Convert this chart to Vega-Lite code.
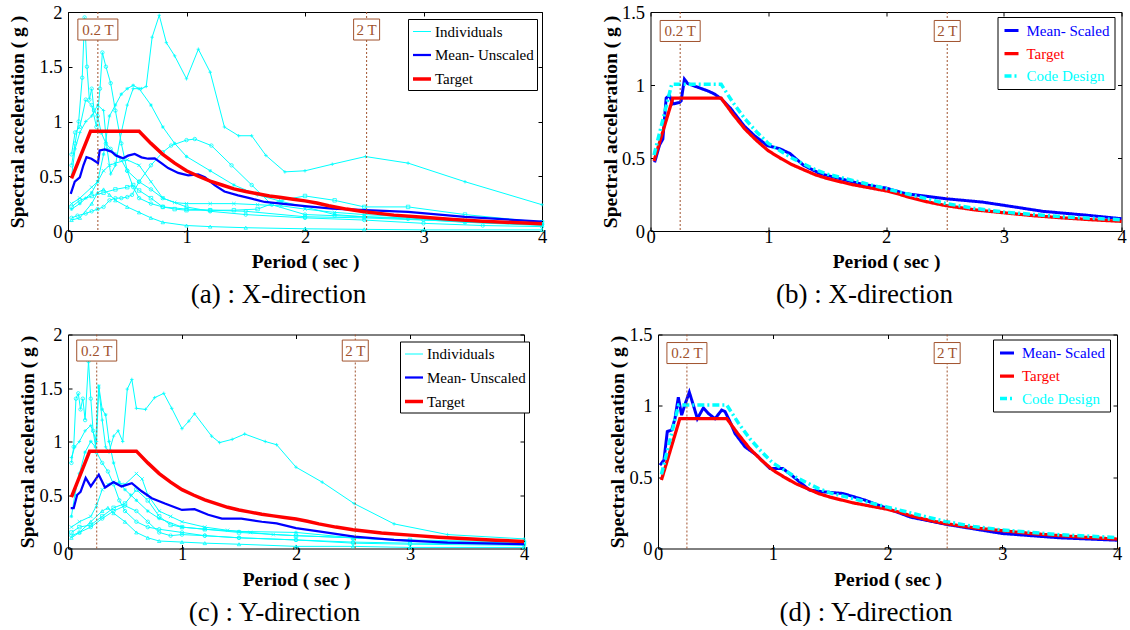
{
"$schema": "https://vega.github.io/schema/vega-lite/v6.json",
"padding": {"left": 7, "top": 2, "right": 0, "bottom": 0},
"background": "white",
"datasets": {
"marks": [{"T": 0.252, "lab": "0.2 T"}, {"T": 2.52, "lab": "2 T"}],
"target": [{"T":0.03,"Sa":0.48},{"T":0.19,"Sa":0.91},{"T":0.6,"Sa":0.91},{"T":0.7,"Sa":0.8},{"T":0.8,"Sa":0.7},{"T":0.9,"Sa":0.62},{"T":1.0,"Sa":0.55},{"T":1.1,"Sa":0.5},{"T":1.2,"Sa":0.455},{"T":1.3,"Sa":0.42},{"T":1.4,"Sa":0.385},{"T":1.5,"Sa":0.36},{"T":1.6,"Sa":0.34},{"T":1.7,"Sa":0.32},{"T":1.8,"Sa":0.305},{"T":1.9,"Sa":0.29},{"T":2.0,"Sa":0.275},{"T":2.1,"Sa":0.255},{"T":2.2,"Sa":0.23},{"T":2.35,"Sa":0.2},{"T":2.5,"Sa":0.175},{"T":2.75,"Sa":0.145},{"T":3.0,"Sa":0.125},{"T":3.25,"Sa":0.105},{"T":3.5,"Sa":0.09},{"T":3.75,"Sa":0.077},{"T":4.0,"Sa":0.066}],
"code": [{"T":0.03,"Sa":0.52},{"T":0.18,"Sa":1.005},{"T":0.6,"Sa":1.005},{"T":0.7,"Sa":0.88},{"T":0.8,"Sa":0.77},{"T":0.9,"Sa":0.68},{"T":1.0,"Sa":0.6},{"T":1.1,"Sa":0.55},{"T":1.2,"Sa":0.5},{"T":1.3,"Sa":0.46},{"T":1.4,"Sa":0.42},{"T":1.5,"Sa":0.39},{"T":1.6,"Sa":0.37},{"T":1.7,"Sa":0.35},{"T":1.8,"Sa":0.33},{"T":1.9,"Sa":0.31},{"T":2.0,"Sa":0.29},{"T":2.2,"Sa":0.25},{"T":2.5,"Sa":0.19},{"T":2.75,"Sa":0.155},{"T":3.0,"Sa":0.13},{"T":3.5,"Sa":0.097},{"T":4.0,"Sa":0.077}],
"meanA": [{"T":0.023,"Sa":0.34},{"T":0.057,"Sa":0.45},{"T":0.1,"Sa":0.49},{"T":0.13,"Sa":0.6},{"T":0.156,"Sa":0.675},{"T":0.198,"Sa":0.66},{"T":0.24,"Sa":0.63},{"T":0.253,"Sa":0.62},{"T":0.267,"Sa":0.736},{"T":0.31,"Sa":0.745},{"T":0.366,"Sa":0.725},{"T":0.408,"Sa":0.688},{"T":0.465,"Sa":0.664},{"T":0.507,"Sa":0.688},{"T":0.563,"Sa":0.703},{"T":0.62,"Sa":0.673},{"T":0.676,"Sa":0.66},{"T":0.732,"Sa":0.664},{"T":0.788,"Sa":0.62},{"T":0.845,"Sa":0.575},{"T":0.93,"Sa":0.53},{"T":1.014,"Sa":0.508},{"T":1.098,"Sa":0.517},{"T":1.155,"Sa":0.49},{"T":1.24,"Sa":0.416},{"T":1.32,"Sa":0.361},{"T":1.435,"Sa":0.325},{"T":1.55,"Sa":0.295},{"T":1.66,"Sa":0.265},{"T":2.0,"Sa":0.228},{"T":2.23,"Sa":0.205},{"T":2.51,"Sa":0.19},{"T":2.87,"Sa":0.174},{"T":3.35,"Sa":0.128},{"T":4.0,"Sa":0.085}],
"meanC": [{"T":0.024,"Sa":0.377},{"T":0.05,"Sa":0.377},{"T":0.08,"Sa":0.5},{"T":0.11,"Sa":0.53},{"T":0.155,"Sa":0.66},{"T":0.2,"Sa":0.58},{"T":0.27,"Sa":0.69},{"T":0.325,"Sa":0.57},{"T":0.4,"Sa":0.62},{"T":0.47,"Sa":0.58},{"T":0.56,"Sa":0.61},{"T":0.646,"Sa":0.535},{"T":0.735,"Sa":0.47},{"T":0.85,"Sa":0.42},{"T":1.0,"Sa":0.36},{"T":1.11,"Sa":0.367},{"T":1.23,"Sa":0.315},{"T":1.35,"Sa":0.28},{"T":1.52,"Sa":0.28},{"T":1.7,"Sa":0.25},{"T":1.83,"Sa":0.235},{"T":2.0,"Sa":0.19},{"T":2.2,"Sa":0.16},{"T":2.51,"Sa":0.11},{"T":2.86,"Sa":0.08},{"T":3.33,"Sa":0.054},{"T":4.0,"Sa":0.04}],
"meanB": [{"T":0.035,"Sa":0.47},{"T":0.077,"Sa":0.59},{"T":0.105,"Sa":0.63},{"T":0.133,"Sa":0.91},{"T":0.16,"Sa":0.93},{"T":0.19,"Sa":0.87},{"T":0.245,"Sa":0.88},{"T":0.26,"Sa":0.89},{"T":0.288,"Sa":1.04},{"T":0.316,"Sa":1.01},{"T":0.4,"Sa":0.985},{"T":0.485,"Sa":0.96},{"T":0.54,"Sa":0.94},{"T":0.6,"Sa":0.906},{"T":0.68,"Sa":0.84},{"T":0.795,"Sa":0.72},{"T":0.88,"Sa":0.655},{"T":0.99,"Sa":0.586},{"T":1.1,"Sa":0.563},{"T":1.185,"Sa":0.53},{"T":1.3,"Sa":0.45},{"T":1.44,"Sa":0.393},{"T":1.61,"Sa":0.358},{"T":1.8,"Sa":0.32},{"T":2.0,"Sa":0.294},{"T":2.17,"Sa":0.255},{"T":2.52,"Sa":0.22},{"T":2.82,"Sa":0.198},{"T":3.0,"Sa":0.176},{"T":3.33,"Sa":0.135},{"T":3.72,"Sa":0.107},{"T":4.0,"Sa":0.084}],
"meanD": [{"T":0.017,"Sa":0.584},{"T":0.052,"Sa":0.62},{"T":0.081,"Sa":0.82},{"T":0.119,"Sa":0.83},{"T":0.148,"Sa":0.91},{"T":0.177,"Sa":1.06},{"T":0.206,"Sa":0.935},{"T":0.235,"Sa":1.01},{"T":0.273,"Sa":1.095},{"T":0.308,"Sa":1.005},{"T":0.343,"Sa":0.91},{"T":0.395,"Sa":0.985},{"T":0.439,"Sa":0.946},{"T":0.497,"Sa":0.91},{"T":0.555,"Sa":0.97},{"T":0.584,"Sa":0.96},{"T":0.628,"Sa":0.888},{"T":0.671,"Sa":0.806},{"T":0.759,"Sa":0.712},{"T":0.86,"Sa":0.654},{"T":0.976,"Sa":0.56},{"T":1.09,"Sa":0.56},{"T":1.18,"Sa":0.503},{"T":1.32,"Sa":0.41},{"T":1.44,"Sa":0.397},{"T":1.61,"Sa":0.386},{"T":1.8,"Sa":0.34},{"T":2.0,"Sa":0.28},{"T":2.2,"Sa":0.22},{"T":2.52,"Sa":0.168},{"T":3.0,"Sa":0.105},{"T":3.5,"Sa":0.075},{"T":4.0,"Sa":0.058}],
"indA": [
{"rec":"r1","T":0.03,"Sa":0.5},{"rec":"r1","T":0.06,"Sa":0.75},{"rec":"r1","T":0.1,"Sa":0.9},{"rec":"r1","T":0.15,"Sa":1.0},{"rec":"r1","T":0.2,"Sa":1.05},{"rec":"r1","T":0.25,"Sa":1.15},{"rec":"r1","T":0.3,"Sa":1.1},{"rec":"r1","T":0.33,"Sa":0.75},{"rec":"r1","T":0.36,"Sa":0.52},{"rec":"r1","T":0.4,"Sa":0.6},{"rec":"r1","T":0.45,"Sa":0.9},{"rec":"r1","T":0.5,"Sa":1.15},{"rec":"r1","T":0.55,"Sa":1.3},{"rec":"r1","T":0.62,"Sa":1.3},{"rec":"r1","T":0.66,"Sa":1.32},{"rec":"r1","T":0.71,"Sa":1.77},{"rec":"r1","T":0.77,"Sa":1.97},{"rec":"r1","T":0.83,"Sa":1.72},{"rec":"r1","T":0.9,"Sa":1.6},{"rec":"r1","T":1.0,"Sa":1.39},{"rec":"r1","T":1.1,"Sa":1.66},{"rec":"r1","T":1.2,"Sa":1.45},{"rec":"r1","T":1.32,"Sa":0.95},{"rec":"r1","T":1.44,"Sa":0.87},{"rec":"r1","T":1.55,"Sa":0.87},{"rec":"r1","T":1.67,"Sa":0.69},{"rec":"r1","T":1.83,"Sa":0.54},{"rec":"r1","T":2.0,"Sa":0.55},{"rec":"r1","T":2.23,"Sa":0.61},{"rec":"r1","T":2.51,"Sa":0.68},{"rec":"r1","T":2.87,"Sa":0.62},{"rec":"r1","T":3.35,"Sa":0.45},{"rec":"r1","T":4.0,"Sa":0.24},
{"rec":"r2","T":0.03,"Sa":0.2},{"rec":"r2","T":0.1,"Sa":0.25},{"rec":"r2","T":0.15,"Sa":0.3},{"rec":"r2","T":0.2,"Sa":0.35},{"rec":"r2","T":0.25,"Sa":0.45},{"rec":"r2","T":0.3,"Sa":0.7},{"rec":"r2","T":0.35,"Sa":1.05},{"rec":"r2","T":0.4,"Sa":1.15},{"rec":"r2","T":0.45,"Sa":1.25},{"rec":"r2","T":0.5,"Sa":1.3},{"rec":"r2","T":0.55,"Sa":1.33},{"rec":"r2","T":0.6,"Sa":1.3},{"rec":"r2","T":0.7,"Sa":1.15},{"rec":"r2","T":0.8,"Sa":0.95},{"rec":"r2","T":0.9,"Sa":0.8},{"rec":"r2","T":1.0,"Sa":0.68},{"rec":"r2","T":1.2,"Sa":0.55},{"rec":"r2","T":1.4,"Sa":0.42},{"rec":"r2","T":1.6,"Sa":0.33},{"rec":"r2","T":1.8,"Sa":0.27},{"rec":"r2","T":2.0,"Sa":0.22},{"rec":"r2","T":2.25,"Sa":0.15},{"rec":"r2","T":2.5,"Sa":0.13},{"rec":"r2","T":2.87,"Sa":0.12},{"rec":"r2","T":3.35,"Sa":0.08},{"rec":"r2","T":4.0,"Sa":0.05},
{"rec":"r3","T":0.03,"Sa":0.6},{"rec":"r3","T":0.06,"Sa":0.8},{"rec":"r3","T":0.09,"Sa":1.0},{"rec":"r3","T":0.12,"Sa":1.4},{"rec":"r3","T":0.14,"Sa":1.95},{"rec":"r3","T":0.16,"Sa":1.5},{"rec":"r3","T":0.18,"Sa":1.2},{"rec":"r3","T":0.2,"Sa":1.3},{"rec":"r3","T":0.22,"Sa":1.1},{"rec":"r3","T":0.25,"Sa":1.05},{"rec":"r3","T":0.28,"Sa":0.9},{"rec":"r3","T":0.32,"Sa":0.8},{"rec":"r3","T":0.36,"Sa":0.75},{"rec":"r3","T":0.4,"Sa":0.7},{"rec":"r3","T":0.45,"Sa":0.65},{"rec":"r3","T":0.5,"Sa":0.55},{"rec":"r3","T":0.6,"Sa":0.45},{"rec":"r3","T":0.7,"Sa":0.38},{"rec":"r3","T":0.8,"Sa":0.3},{"rec":"r3","T":1.0,"Sa":0.22},{"rec":"r3","T":1.2,"Sa":0.18},{"rec":"r3","T":1.5,"Sa":0.15},{"rec":"r3","T":2.0,"Sa":0.12},{"rec":"r3","T":2.5,"Sa":0.1},{"rec":"r3","T":3.0,"Sa":0.07},{"rec":"r3","T":3.5,"Sa":0.05},{"rec":"r3","T":4.0,"Sa":0.04},
{"rec":"r4","T":0.03,"Sa":0.7},{"rec":"r4","T":0.06,"Sa":0.9},{"rec":"r4","T":0.1,"Sa":0.95},{"rec":"r4","T":0.15,"Sa":1.2},{"rec":"r4","T":0.2,"Sa":1.15},{"rec":"r4","T":0.24,"Sa":0.95},{"rec":"r4","T":0.27,"Sa":1.3},{"rec":"r4","T":0.29,"Sa":1.63},{"rec":"r4","T":0.32,"Sa":1.5},{"rec":"r4","T":0.36,"Sa":1.35},{"rec":"r4","T":0.4,"Sa":1.1},{"rec":"r4","T":0.45,"Sa":0.8},{"rec":"r4","T":0.5,"Sa":0.55},{"rec":"r4","T":0.55,"Sa":0.4},{"rec":"r4","T":0.6,"Sa":0.3},{"rec":"r4","T":0.7,"Sa":0.25},{"rec":"r4","T":0.8,"Sa":0.22},{"rec":"r4","T":1.0,"Sa":0.2},{"rec":"r4","T":1.2,"Sa":0.19},{"rec":"r4","T":1.5,"Sa":0.18},{"rec":"r4","T":2.0,"Sa":0.13},{"rec":"r4","T":2.5,"Sa":0.12},{"rec":"r4","T":3.0,"Sa":0.1},{"rec":"r4","T":4.0,"Sa":0.06},
{"rec":"r5","T":0.03,"Sa":0.12},{"rec":"r5","T":0.08,"Sa":0.14},{"rec":"r5","T":0.15,"Sa":0.16},{"rec":"r5","T":0.2,"Sa":0.18},{"rec":"r5","T":0.25,"Sa":0.2},{"rec":"r5","T":0.3,"Sa":0.22},{"rec":"r5","T":0.35,"Sa":0.28},{"rec":"r5","T":0.4,"Sa":0.3},{"rec":"r5","T":0.45,"Sa":0.3},{"rec":"r5","T":0.5,"Sa":0.31},{"rec":"r5","T":0.54,"Sa":0.33},{"rec":"r5","T":0.6,"Sa":0.45},{"rec":"r5","T":0.7,"Sa":0.6},{"rec":"r5","T":0.8,"Sa":0.72},{"rec":"r5","T":0.87,"Sa":0.78},{"rec":"r5","T":1.0,"Sa":0.83},{"rec":"r5","T":1.07,"Sa":0.84},{"rec":"r5","T":1.21,"Sa":0.78},{"rec":"r5","T":1.38,"Sa":0.6},{"rec":"r5","T":1.55,"Sa":0.42},{"rec":"r5","T":1.72,"Sa":0.24},{"rec":"r5","T":2.0,"Sa":0.15},{"rec":"r5","T":2.25,"Sa":0.14},{"rec":"r5","T":2.5,"Sa":0.13},{"rec":"r5","T":2.87,"Sa":0.11},{"rec":"r5","T":3.35,"Sa":0.08},{"rec":"r5","T":4.0,"Sa":0.06},
{"rec":"r6","T":0.03,"Sa":0.25},{"rec":"r6","T":0.1,"Sa":0.3},{"rec":"r6","T":0.2,"Sa":0.4},{"rec":"r6","T":0.25,"Sa":0.45},{"rec":"r6","T":0.3,"Sa":0.55},{"rec":"r6","T":0.35,"Sa":0.6},{"rec":"r6","T":0.4,"Sa":0.62},{"rec":"r6","T":0.5,"Sa":0.65},{"rec":"r6","T":0.6,"Sa":0.6},{"rec":"r6","T":0.7,"Sa":0.45},{"rec":"r6","T":0.8,"Sa":0.3},{"rec":"r6","T":0.9,"Sa":0.26},{"rec":"r6","T":1.0,"Sa":0.25},{"rec":"r6","T":1.2,"Sa":0.25},{"rec":"r6","T":1.4,"Sa":0.25},{"rec":"r6","T":1.6,"Sa":0.24},{"rec":"r6","T":1.8,"Sa":0.23},{"rec":"r6","T":2.0,"Sa":0.2},{"rec":"r6","T":2.25,"Sa":0.17},{"rec":"r6","T":2.5,"Sa":0.15},{"rec":"r6","T":2.87,"Sa":0.13},{"rec":"r6","T":3.35,"Sa":0.1},{"rec":"r6","T":4.0,"Sa":0.07},
{"rec":"r7","T":0.03,"Sa":0.22},{"rec":"r7","T":0.1,"Sa":0.28},{"rec":"r7","T":0.2,"Sa":0.32},{"rec":"r7","T":0.3,"Sa":0.35},{"rec":"r7","T":0.4,"Sa":0.38},{"rec":"r7","T":0.5,"Sa":0.4},{"rec":"r7","T":0.55,"Sa":0.42},{"rec":"r7","T":0.6,"Sa":0.37},{"rec":"r7","T":0.7,"Sa":0.3},{"rec":"r7","T":0.8,"Sa":0.22},{"rec":"r7","T":0.9,"Sa":0.2},{"rec":"r7","T":1.0,"Sa":0.19},{"rec":"r7","T":1.2,"Sa":0.19},{"rec":"r7","T":1.4,"Sa":0.19},{"rec":"r7","T":1.6,"Sa":0.2},{"rec":"r7","T":1.8,"Sa":0.28},{"rec":"r7","T":2.0,"Sa":0.32},{"rec":"r7","T":2.25,"Sa":0.28},{"rec":"r7","T":2.5,"Sa":0.22},{"rec":"r7","T":2.87,"Sa":0.22},{"rec":"r7","T":3.35,"Sa":0.15},{"rec":"r7","T":4.0,"Sa":0.08},
{"rec":"r8","T":0.03,"Sa":0.1},{"rec":"r8","T":0.1,"Sa":0.12},{"rec":"r8","T":0.2,"Sa":0.25},{"rec":"r8","T":0.25,"Sa":0.35},{"rec":"r8","T":0.3,"Sa":0.38},{"rec":"r8","T":0.35,"Sa":0.33},{"rec":"r8","T":0.4,"Sa":0.28},{"rec":"r8","T":0.5,"Sa":0.22},{"rec":"r8","T":0.6,"Sa":0.17},{"rec":"r8","T":0.7,"Sa":0.12},{"rec":"r8","T":0.8,"Sa":0.08},{"rec":"r8","T":1.0,"Sa":0.05},{"rec":"r8","T":1.2,"Sa":0.04},{"rec":"r8","T":1.5,"Sa":0.03},{"rec":"r8","T":2.0,"Sa":0.02},{"rec":"r8","T":2.5,"Sa":0.015},{"rec":"r8","T":3.0,"Sa":0.01},{"rec":"r8","T":4.0,"Sa":0.01}
],
"indC": [
{"rec":"r1","T":0.03,"Sa":0.85},{"rec":"r1","T":0.06,"Sa":0.95},{"rec":"r1","T":0.1,"Sa":1.0},{"rec":"r1","T":0.15,"Sa":1.1},{"rec":"r1","T":0.2,"Sa":1.15},{"rec":"r1","T":0.25,"Sa":1.0},{"rec":"r1","T":0.27,"Sa":1.5},{"rec":"r1","T":0.3,"Sa":1.2},{"rec":"r1","T":0.33,"Sa":0.95},{"rec":"r1","T":0.36,"Sa":0.9},{"rec":"r1","T":0.4,"Sa":1.05},{"rec":"r1","T":0.44,"Sa":1.1},{"rec":"r1","T":0.48,"Sa":1.0},{"rec":"r1","T":0.52,"Sa":1.49},{"rec":"r1","T":0.56,"Sa":1.58},{"rec":"r1","T":0.6,"Sa":1.31},{"rec":"r1","T":0.68,"Sa":1.3},{"rec":"r1","T":0.76,"Sa":1.41},{"rec":"r1","T":0.84,"Sa":1.45},{"rec":"r1","T":0.91,"Sa":1.31},{"rec":"r1","T":1.0,"Sa":1.12},{"rec":"r1","T":1.06,"Sa":1.19},{"rec":"r1","T":1.11,"Sa":1.26},{"rec":"r1","T":1.26,"Sa":1.05},{"rec":"r1","T":1.33,"Sa":0.99},{"rec":"r1","T":1.44,"Sa":1.02},{"rec":"r1","T":1.55,"Sa":1.07},{"rec":"r1","T":1.73,"Sa":1.0},{"rec":"r1","T":1.83,"Sa":0.97},{"rec":"r1","T":2.0,"Sa":0.76},{"rec":"r1","T":2.23,"Sa":0.62},{"rec":"r1","T":2.51,"Sa":0.42},{"rec":"r1","T":2.86,"Sa":0.23},{"rec":"r1","T":3.33,"Sa":0.13},{"rec":"r1","T":4.0,"Sa":0.09},
{"rec":"r3","T":0.03,"Sa":0.8},{"rec":"r3","T":0.05,"Sa":0.95},{"rec":"r3","T":0.07,"Sa":1.4},{"rec":"r3","T":0.09,"Sa":1.45},{"rec":"r3","T":0.11,"Sa":1.3},{"rec":"r3","T":0.13,"Sa":1.4},{"rec":"r3","T":0.15,"Sa":1.2},{"rec":"r3","T":0.18,"Sa":1.75},{"rec":"r3","T":0.2,"Sa":1.4},{"rec":"r3","T":0.22,"Sa":1.1},{"rec":"r3","T":0.25,"Sa":0.9},{"rec":"r3","T":0.3,"Sa":0.8},{"rec":"r3","T":0.35,"Sa":0.72},{"rec":"r3","T":0.4,"Sa":0.6},{"rec":"r3","T":0.45,"Sa":0.45},{"rec":"r3","T":0.5,"Sa":0.35},{"rec":"r3","T":0.6,"Sa":0.25},{"rec":"r3","T":0.7,"Sa":0.2},{"rec":"r3","T":0.8,"Sa":0.18},{"rec":"r3","T":1.0,"Sa":0.15},{"rec":"r3","T":1.2,"Sa":0.12},{"rec":"r3","T":1.5,"Sa":0.1},{"rec":"r3","T":2.0,"Sa":0.08},{"rec":"r3","T":2.5,"Sa":0.06},{"rec":"r3","T":3.0,"Sa":0.05},{"rec":"r3","T":4.0,"Sa":0.04},
{"rec":"r2","T":0.03,"Sa":0.3},{"rec":"r2","T":0.06,"Sa":0.5},{"rec":"r2","T":0.1,"Sa":0.7},{"rec":"r2","T":0.15,"Sa":0.9},{"rec":"r2","T":0.2,"Sa":1.0},{"rec":"r2","T":0.24,"Sa":0.95},{"rec":"r2","T":0.27,"Sa":1.52},{"rec":"r2","T":0.3,"Sa":1.3},{"rec":"r2","T":0.33,"Sa":1.25},{"rec":"r2","T":0.36,"Sa":1.0},{"rec":"r2","T":0.4,"Sa":0.8},{"rec":"r2","T":0.45,"Sa":0.62},{"rec":"r2","T":0.5,"Sa":0.55},{"rec":"r2","T":0.55,"Sa":0.5},{"rec":"r2","T":0.6,"Sa":0.45},{"rec":"r2","T":0.7,"Sa":0.35},{"rec":"r2","T":0.8,"Sa":0.28},{"rec":"r2","T":1.0,"Sa":0.2},{"rec":"r2","T":1.2,"Sa":0.18},{"rec":"r2","T":1.5,"Sa":0.16},{"rec":"r2","T":2.0,"Sa":0.15},{"rec":"r2","T":2.5,"Sa":0.1},{"rec":"r2","T":3.0,"Sa":0.07},{"rec":"r2","T":4.0,"Sa":0.05},
{"rec":"r6","T":0.03,"Sa":0.2},{"rec":"r6","T":0.1,"Sa":0.25},{"rec":"r6","T":0.2,"Sa":0.3},{"rec":"r6","T":0.25,"Sa":0.4},{"rec":"r6","T":0.3,"Sa":0.55},{"rec":"r6","T":0.35,"Sa":0.6},{"rec":"r6","T":0.4,"Sa":0.62},{"rec":"r6","T":0.5,"Sa":0.6},{"rec":"r6","T":0.6,"Sa":0.7},{"rec":"r6","T":0.65,"Sa":0.65},{"rec":"r6","T":0.7,"Sa":0.5},{"rec":"r6","T":0.8,"Sa":0.35},{"rec":"r6","T":0.9,"Sa":0.3},{"rec":"r6","T":1.0,"Sa":0.25},{"rec":"r6","T":1.2,"Sa":0.2},{"rec":"r6","T":1.4,"Sa":0.17},{"rec":"r6","T":1.6,"Sa":0.15},{"rec":"r6","T":1.8,"Sa":0.13},{"rec":"r6","T":2.0,"Sa":0.12},{"rec":"r6","T":2.5,"Sa":0.1},{"rec":"r6","T":3.0,"Sa":0.07},{"rec":"r6","T":4.0,"Sa":0.05},
{"rec":"r7","T":0.03,"Sa":0.15},{"rec":"r7","T":0.1,"Sa":0.2},{"rec":"r7","T":0.2,"Sa":0.22},{"rec":"r7","T":0.3,"Sa":0.3},{"rec":"r7","T":0.4,"Sa":0.38},{"rec":"r7","T":0.5,"Sa":0.42},{"rec":"r7","T":0.6,"Sa":0.55},{"rec":"r7","T":0.7,"Sa":0.45},{"rec":"r7","T":0.8,"Sa":0.3},{"rec":"r7","T":0.9,"Sa":0.22},{"rec":"r7","T":1.0,"Sa":0.2},{"rec":"r7","T":1.2,"Sa":0.18},{"rec":"r7","T":1.5,"Sa":0.15},{"rec":"r7","T":2.0,"Sa":0.12},{"rec":"r7","T":2.5,"Sa":0.1},{"rec":"r7","T":3.0,"Sa":0.08},{"rec":"r7","T":4.0,"Sa":0.06},
{"rec":"r5","T":0.03,"Sa":0.12},{"rec":"r5","T":0.1,"Sa":0.15},{"rec":"r5","T":0.2,"Sa":0.2},{"rec":"r5","T":0.3,"Sa":0.28},{"rec":"r5","T":0.4,"Sa":0.35},{"rec":"r5","T":0.5,"Sa":0.4},{"rec":"r5","T":0.6,"Sa":0.35},{"rec":"r5","T":0.7,"Sa":0.25},{"rec":"r5","T":0.8,"Sa":0.15},{"rec":"r5","T":0.9,"Sa":0.12},{"rec":"r5","T":1.0,"Sa":0.13},{"rec":"r5","T":1.2,"Sa":0.12},{"rec":"r5","T":1.5,"Sa":0.1},{"rec":"r5","T":2.0,"Sa":0.08},{"rec":"r5","T":2.5,"Sa":0.05},{"rec":"r5","T":3.0,"Sa":0.04},{"rec":"r5","T":4.0,"Sa":0.03},
{"rec":"r8","T":0.03,"Sa":0.1},{"rec":"r8","T":0.1,"Sa":0.15},{"rec":"r8","T":0.2,"Sa":0.25},{"rec":"r8","T":0.3,"Sa":0.35},{"rec":"r8","T":0.35,"Sa":0.38},{"rec":"r8","T":0.4,"Sa":0.33},{"rec":"r8","T":0.5,"Sa":0.25},{"rec":"r8","T":0.6,"Sa":0.15},{"rec":"r8","T":0.7,"Sa":0.1},{"rec":"r8","T":0.8,"Sa":0.07},{"rec":"r8","T":1.0,"Sa":0.06},{"rec":"r8","T":1.2,"Sa":0.05},{"rec":"r8","T":1.5,"Sa":0.04},{"rec":"r8","T":2.0,"Sa":0.02},{"rec":"r8","T":2.5,"Sa":0.02},{"rec":"r8","T":3.0,"Sa":0.01},{"rec":"r8","T":4.0,"Sa":0.01}
]
},
"columns": 1,
"align": "none",
"spacing": 15.5,
"resolve": {"scale": {"color": "independent", "strokeWidth": "independent", "strokeDash": "independent", "shape": "independent"}, "legend": {"color": "independent", "strokeWidth": "independent", "strokeDash": "independent", "shape": "independent"}},
"concat": [
{
"spacing": 49.5,
"resolve": {"scale": {"color": "independent", "strokeWidth": "independent", "strokeDash": "independent", "shape": "independent"}, "legend": {"color": "independent", "strokeWidth": "independent", "strokeDash": "independent", "shape": "independent"}},
"hconcat": [
{
"width": 474, "height": 219,
"title": {"text": "(a) : X-direction"},
"resolve": {"axis": {"x": "independent", "y": "independent"}, "scale": {"shape": "independent"}},
"layer": [
{"data": {"name": "indA"}, "mark": {"type": "line", "strokeWidth": 1},
 "encoding": {
  "x": {"field": "T", "type": "quantitative", "scale": {"domain": [0, 4], "nice": false}, "axis": {"orient": "bottom", "values": [0,1,2,3,4], "title": "Period ( sec )"}},
  "y": {"field": "Sa", "type": "quantitative", "scale": {"domain": [0, 2], "nice": false}, "axis": {"orient": "left", "values": [0,0.5,1,1.5,2], "format": "~g", "title": "Spectral acceleration ( g )", "titlePadding": 11}},
  "detail": {"field": "rec"},
  "color": {"datum": "Individuals", "type": "nominal", "scale": {"domain": ["Individuals","Mean- Unscaled","Target"], "range": ["#00ffff","#0000ff","#ff0000"]}, "legend": {"orient": "none", "legendX": 340, "legendY": 7, "title": null, "strokeColor": "black", "fillColor": "white", "padding": 3, "symbolType": "stroke", "symbolSize": 324, "labelFont": "Liberation Serif", "labelFontSize": 15, "labelColor": "black", "rowPadding": 4.5, "labelOffset": 2}},
  "strokeWidth": {"datum": "Individuals", "type": "nominal", "scale": {"domain": ["Individuals","Mean- Unscaled","Target"], "range": [1,3.5,3.5]}, "legend": null}
 }},
{"data": {"name": "indA"}, "mark": {"type": "point", "filled": false, "size": 12, "strokeWidth": 0.8, "opacity": 1, "color": "#00ffff"},
 "encoding": {
  "x": {"field": "T", "type": "quantitative", "axis": null},
  "y": {"field": "Sa", "type": "quantitative", "axis": null},
  "shape": {"field": "rec", "type": "nominal", "legend": null, "scale": {"domain": ["r1","r2","r3","r4","r5","r6","r7","r8"], "range": ["M-1,0H1M0,-1V1","M-1,0H1M0,-1V1M-0.7,-0.7L0.7,0.7M-0.7,0.7L0.7,-0.7","circle","circle","circle","M-1,-1L1,1M-1,1L1,-1","square","triangle-up"]}}
 }},
{"data": {"name": "meanA"}, "mark": {"type": "line"},
 "encoding": {
  "x": {"field": "T", "type": "quantitative", "axis": null},
  "y": {"field": "Sa", "type": "quantitative", "axis": null},
  "color": {"datum": "Mean- Unscaled", "type": "nominal"},
  "strokeWidth": {"datum": "Mean- Unscaled", "type": "nominal"}
 }},
{"data": {"name": "target"}, "mark": {"type": "line"},
 "encoding": {
  "x": {"field": "T", "type": "quantitative", "axis": null},
  "y": {"field": "Sa", "type": "quantitative", "axis": null},
  "color": {"datum": "Target", "type": "nominal"},
  "strokeWidth": {"datum": "Target", "type": "nominal"}
 }},
{"data": {"name": "marks"}, "mark": {"type": "rule", "strokeDash": [2,2], "color": "#a0522d", "strokeWidth": 1},
 "encoding": {"x": {"field": "T", "type": "quantitative", "axis": {"orient": "top", "labels": false, "title": null, "values": [0,1,2,3,4]}}}},
{"data": {"name": "marks"}, "mark": {"type": "point", "filled": true, "fill": "white", "stroke": "#a0522d", "strokeWidth": 1, "size": 1600, "opacity": 1},
 "encoding": {
  "x": {"field": "T", "type": "quantitative", "axis": null},
  "y": {"datum": 1.84, "type": "quantitative", "axis": {"orient": "right", "labels": false, "title": null, "values": [0,0.5,1,1.5,2]}},
  "shape": {"field": "lab", "type": "nominal", "legend": null, "scale": {"domain": ["0.2 T","2 T"], "range": ["M-1,-0.525H1V0.525H-1Z","M-0.65,-0.525H0.65V0.525H-0.65Z"]}}
 }},
{"data": {"name": "marks"}, "mark": {"type": "text", "font": "Liberation Serif", "fontSize": 15, "color": "#a0522d"},
 "encoding": {
  "x": {"field": "T", "type": "quantitative", "axis": null},
  "y": {"datum": 1.84, "type": "quantitative", "axis": null},
  "text": {"field": "lab"}
 }}
]
},
{
"width": 471, "height": 219,
"title": {"text": "(b) : X-direction"},
"resolve": {"axis": {"x": "independent", "y": "independent"}},
"layer": [
{"data": {"name": "meanB"}, "mark": {"type": "line"},
 "encoding": {
  "x": {"field": "T", "type": "quantitative", "scale": {"domain": [0, 4], "nice": false}, "axis": {"orient": "bottom", "values": [0,1,2,3,4], "title": "Period ( sec )"}},
  "y": {"field": "Sa", "type": "quantitative", "scale": {"domain": [0, 1.5], "nice": false}, "axis": {"orient": "left", "values": [0,0.5,1,1.5], "format": "~g", "title": "Spectral acceleration ( g )"}},
  "color": {"datum": "Mean- Scaled", "type": "nominal", "scale": {"domain": ["Mean- Scaled","Target","Code Design"], "range": ["#0000ff","#ff0000","#00ffff"]}, "legend": {"orient": "none", "legendX": 347, "legendY": 5, "title": null, "strokeColor": "black", "fillColor": "white", "padding": 5, "symbolType": "stroke", "symbolSize": 196, "labelFont": "Liberation Serif", "labelFontSize": 15, "rowPadding": 5.5, "labelOffset": 6, "encode": {"labels": {"update": {"fill": {"signal": "datum.label == 'Target' ? '#ff0000' : datum.label == 'Code Design' ? '#00ffff' : '#0000ff'"}}}}}},
  "strokeWidth": {"datum": "Mean- Scaled", "type": "nominal", "scale": {"domain": ["Mean- Scaled","Target","Code Design"], "range": [3,3.5,3]}, "legend": null},
  "strokeDash": {"datum": "Mean- Scaled", "type": "nominal", "scale": {"domain": ["Mean- Scaled","Target","Code Design"], "range": [[1,0],[1,0],[7,3,2,3]]}, "legend": null}
 }},
{"data": {"name": "target"}, "mark": {"type": "line"},
 "encoding": {
  "x": {"field": "T", "type": "quantitative", "axis": null},
  "y": {"field": "Sa", "type": "quantitative", "axis": null},
  "color": {"datum": "Target", "type": "nominal"},
  "strokeWidth": {"datum": "Target", "type": "nominal"},
  "strokeDash": {"datum": "Target", "type": "nominal"}
 }},
{"data": {"name": "code"}, "mark": {"type": "line"},
 "encoding": {
  "x": {"field": "T", "type": "quantitative", "axis": null},
  "y": {"field": "Sa", "type": "quantitative", "axis": null},
  "color": {"datum": "Code Design", "type": "nominal"},
  "strokeWidth": {"datum": "Code Design", "type": "nominal"},
  "strokeDash": {"datum": "Code Design", "type": "nominal"}
 }},
{"data": {"name": "marks"}, "mark": {"type": "rule", "strokeDash": [2,2], "color": "#a0522d", "strokeWidth": 1},
 "encoding": {"x": {"field": "T", "type": "quantitative", "axis": {"orient": "top", "labels": false, "title": null, "values": [0,1,2,3,4]}}}},
{"data": {"name": "marks"}, "mark": {"type": "point", "filled": true, "fill": "white", "stroke": "#a0522d", "strokeWidth": 1, "size": 1600, "opacity": 1},
 "encoding": {
  "x": {"field": "T", "type": "quantitative", "axis": null},
  "y": {"datum": 1.37, "type": "quantitative", "axis": {"orient": "right", "labels": false, "title": null, "values": [0,0.5,1,1.5]}},
  "shape": {"field": "lab", "type": "nominal", "legend": null, "scale": {"domain": ["0.2 T","2 T"], "range": ["M-1,-0.525H1V0.525H-1Z","M-0.65,-0.525H0.65V0.525H-0.65Z"]}}
 }},
{"data": {"name": "marks"}, "mark": {"type": "text", "font": "Liberation Serif", "fontSize": 15, "color": "#a0522d"},
 "encoding": {
  "x": {"field": "T", "type": "quantitative", "axis": null},
  "y": {"datum": 1.37, "type": "quantitative", "axis": null},
  "text": {"field": "lab"}
 }}
]
}
]
},
{
"spacing": 75,
"resolve": {"scale": {"color": "independent", "strokeWidth": "independent", "strokeDash": "independent", "shape": "independent"}, "legend": {"color": "independent", "strokeWidth": "independent", "strokeDash": "independent", "shape": "independent"}},
"hconcat": [
{
"width": 456, "height": 214,
"title": {"text": "(c) : Y-direction"},
"resolve": {"axis": {"x": "independent", "y": "independent"}, "scale": {"shape": "independent"}},
"layer": [
{"data": {"name": "indC"}, "mark": {"type": "line", "strokeWidth": 1},
 "encoding": {
  "x": {"field": "T", "type": "quantitative", "scale": {"domain": [0, 4], "nice": false}, "axis": {"orient": "bottom", "values": [0,1,2,3,4], "title": "Period ( sec )"}},
  "y": {"field": "Sa", "type": "quantitative", "scale": {"domain": [0, 2], "nice": false}, "axis": {"orient": "left", "values": [0,0.5,1,1.5,2], "format": "~g", "title": "Spectral acceleration ( g )", "titlePadding": 1}},
  "detail": {"field": "rec"},
  "color": {"datum": "Individuals", "type": "nominal", "scale": {"domain": ["Individuals","Mean- Unscaled","Target"], "range": ["#00ffff","#0000ff","#ff0000"]}, "legend": {"orient": "none", "legendX": 332, "legendY": 7, "title": null, "strokeColor": "black", "fillColor": "white", "padding": 3, "symbolType": "stroke", "symbolSize": 324, "labelFont": "Liberation Serif", "labelFontSize": 15, "labelColor": "black", "rowPadding": 4.5, "labelOffset": 2}},
  "strokeWidth": {"datum": "Individuals", "type": "nominal", "scale": {"domain": ["Individuals","Mean- Unscaled","Target"], "range": [1,3.5,3.5]}, "legend": null}
 }},
{"data": {"name": "indC"}, "mark": {"type": "point", "filled": false, "size": 12, "strokeWidth": 0.8, "opacity": 1, "color": "#00ffff"},
 "encoding": {
  "x": {"field": "T", "type": "quantitative", "axis": null},
  "y": {"field": "Sa", "type": "quantitative", "axis": null},
  "shape": {"field": "rec", "type": "nominal", "legend": null, "scale": {"domain": ["r1","r2","r3","r4","r5","r6","r7","r8"], "range": ["M-1,0H1M0,-1V1","M-1,0H1M0,-1V1M-0.7,-0.7L0.7,0.7M-0.7,0.7L0.7,-0.7","circle","circle","circle","M-1,-1L1,1M-1,1L1,-1","square","triangle-up"]}}
 }},
{"data": {"name": "meanC"}, "mark": {"type": "line"},
 "encoding": {
  "x": {"field": "T", "type": "quantitative", "axis": null},
  "y": {"field": "Sa", "type": "quantitative", "axis": null},
  "color": {"datum": "Mean- Unscaled", "type": "nominal"},
  "strokeWidth": {"datum": "Mean- Unscaled", "type": "nominal"}
 }},
{"data": {"name": "target"}, "mark": {"type": "line"},
 "encoding": {
  "x": {"field": "T", "type": "quantitative", "axis": null},
  "y": {"field": "Sa", "type": "quantitative", "axis": null},
  "color": {"datum": "Target", "type": "nominal"},
  "strokeWidth": {"datum": "Target", "type": "nominal"}
 }},
{"data": {"name": "marks"}, "mark": {"type": "rule", "strokeDash": [2,2], "color": "#a0522d", "strokeWidth": 1},
 "encoding": {"x": {"field": "T", "type": "quantitative", "axis": {"orient": "top", "labels": false, "title": null, "values": [0,1,2,3,4]}}}},
{"data": {"name": "marks"}, "mark": {"type": "point", "filled": true, "fill": "white", "stroke": "#a0522d", "strokeWidth": 1, "size": 1600, "opacity": 1},
 "encoding": {
  "x": {"field": "T", "type": "quantitative", "axis": null},
  "y": {"datum": 1.85, "type": "quantitative", "axis": {"orient": "right", "labels": false, "title": null, "values": [0,0.5,1,1.5,2]}},
  "shape": {"field": "lab", "type": "nominal", "legend": null, "scale": {"domain": ["0.2 T","2 T"], "range": ["M-1,-0.525H1V0.525H-1Z","M-0.65,-0.525H0.65V0.525H-0.65Z"]}}
 }},
{"data": {"name": "marks"}, "mark": {"type": "text", "font": "Liberation Serif", "fontSize": 15, "color": "#a0522d"},
 "encoding": {
  "x": {"field": "T", "type": "quantitative", "axis": null},
  "y": {"datum": 1.85, "type": "quantitative", "axis": null},
  "text": {"field": "lab"}
 }}
]
},
{
"width": 459, "height": 214,
"title": {"text": "(d) : Y-direction"},
"resolve": {"axis": {"x": "independent", "y": "independent"}},
"layer": [
{"data": {"name": "meanD"}, "mark": {"type": "line"},
 "encoding": {
  "x": {"field": "T", "type": "quantitative", "scale": {"domain": [0, 4], "nice": false}, "axis": {"orient": "bottom", "values": [0,1,2,3,4], "title": "Period ( sec )"}},
  "y": {"field": "Sa", "type": "quantitative", "scale": {"domain": [0, 1.5], "nice": false}, "axis": {"orient": "left", "values": [0,0.5,1,1.5], "format": "~g", "title": "Spectral acceleration ( g )"}},
  "color": {"datum": "Mean- Scaled", "type": "nominal", "scale": {"domain": ["Mean- Scaled","Target","Code Design"], "range": ["#0000ff","#ff0000","#00ffff"]}, "legend": {"orient": "none", "legendX": 335, "legendY": 5, "title": null, "strokeColor": "black", "fillColor": "white", "padding": 5, "symbolType": "stroke", "symbolSize": 196, "labelFont": "Liberation Serif", "labelFontSize": 15, "rowPadding": 5.5, "labelOffset": 6, "encode": {"labels": {"update": {"fill": {"signal": "datum.label == 'Target' ? '#ff0000' : datum.label == 'Code Design' ? '#00ffff' : '#0000ff'"}}}}}},
  "strokeWidth": {"datum": "Mean- Scaled", "type": "nominal", "scale": {"domain": ["Mean- Scaled","Target","Code Design"], "range": [3,3.5,3]}, "legend": null},
  "strokeDash": {"datum": "Mean- Scaled", "type": "nominal", "scale": {"domain": ["Mean- Scaled","Target","Code Design"], "range": [[1,0],[1,0],[7,3,2,3]]}, "legend": null}
 }},
{"data": {"name": "target"}, "mark": {"type": "line"},
 "encoding": {
  "x": {"field": "T", "type": "quantitative", "axis": null},
  "y": {"field": "Sa", "type": "quantitative", "axis": null},
  "color": {"datum": "Target", "type": "nominal"},
  "strokeWidth": {"datum": "Target", "type": "nominal"},
  "strokeDash": {"datum": "Target", "type": "nominal"}
 }},
{"data": {"name": "code"}, "mark": {"type": "line"},
 "encoding": {
  "x": {"field": "T", "type": "quantitative", "axis": null},
  "y": {"field": "Sa", "type": "quantitative", "axis": null},
  "color": {"datum": "Code Design", "type": "nominal"},
  "strokeWidth": {"datum": "Code Design", "type": "nominal"},
  "strokeDash": {"datum": "Code Design", "type": "nominal"}
 }},
{"data": {"name": "marks"}, "mark": {"type": "rule", "strokeDash": [2,2], "color": "#a0522d", "strokeWidth": 1},
 "encoding": {"x": {"field": "T", "type": "quantitative", "axis": {"orient": "top", "labels": false, "title": null, "values": [0,1,2,3,4]}}}},
{"data": {"name": "marks"}, "mark": {"type": "point", "filled": true, "fill": "white", "stroke": "#a0522d", "strokeWidth": 1, "size": 1600, "opacity": 1},
 "encoding": {
  "x": {"field": "T", "type": "quantitative", "axis": null},
  "y": {"datum": 1.37, "type": "quantitative", "axis": {"orient": "right", "labels": false, "title": null, "values": [0,0.5,1,1.5]}},
  "shape": {"field": "lab", "type": "nominal", "legend": null, "scale": {"domain": ["0.2 T","2 T"], "range": ["M-1,-0.525H1V0.525H-1Z","M-0.65,-0.525H0.65V0.525H-0.65Z"]}}
 }},
{"data": {"name": "marks"}, "mark": {"type": "text", "font": "Liberation Serif", "fontSize": 15, "color": "#a0522d"},
 "encoding": {
  "x": {"field": "T", "type": "quantitative", "axis": null},
  "y": {"datum": 1.37, "type": "quantitative", "axis": null},
  "text": {"field": "lab"}
 }}
]
}
]
}
],
"config": {
 "font": "Liberation Serif",
 "view": {"stroke": "black", "strokeWidth": 1},
 "axis": {"domain": false, "grid": false, "labelFont": "Liberation Serif", "labelFontSize": 18.5, "labelColor": "black", "titleFont": "Liberation Serif", "titleFontSize": 19.5, "titleFontWeight": "bold", "titleColor": "black", "tickColor": "black", "tickSize": -4, "labelFlush": false},
 "axisX": {"labelPadding": 0, "titlePadding": 7},
 "axisY": {"labelPadding": 10, "titlePadding": 1},
 "legend": {"labelFont": "Liberation Serif"},
 "title": {"orient": "bottom", "font": "Liberation Serif", "fontSize": 27, "fontWeight": "normal", "color": "black", "anchor": "middle", "frame": "bounds", "offset": 11}
}
}
